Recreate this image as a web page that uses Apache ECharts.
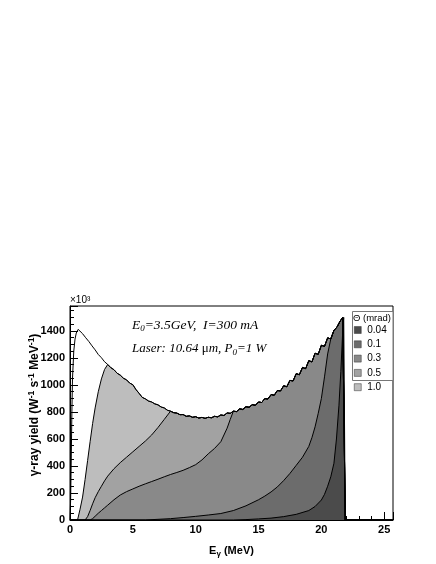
<!DOCTYPE html>
<html>
<head>
<meta charset="utf-8">
<script src="https://cdn.jsdelivr.net/npm/echarts@6/dist/echarts.min.js"></script>
<style>
html,body{margin:0;padding:0;background:#fff;}
#chart{width:436px;height:564px;}
</style>
</head>
<body>
<div id="chart"></div>
<script>
// ---- data (E_gamma in MeV, yield in 10^3 W^-1 s^-1 MeV^-1) ----
const yieldAll = [[0,0],[0.05,150],[0.1,450],[0.15,800],[0.2,1050],[0.3,1250],[0.4,1340],[0.5,1385],[0.65,1412],[0.8,1398],[1.0,1380],[1.25,1350],[1.5,1322],[1.75,1290],[2.0,1260],[2.25,1226],[2.5,1202],[2.75,1172],[3.0,1152],[3.25,1128],[3.5,1113],[3.75,1087],[4.0,1073],[4.25,1050],[4.5,1038],[4.75,1014],[5.0,1002],[5.25,966],[5.5,938],[5.75,908],[6.0,897],[6.25,881],[6.5,874],[6.75,860],[7.0,853],[7.25,837],[7.5,830],[7.75,813],[8.0,806],[8.25,795],[8.5,792],[8.75,780],[9.0,781],[9.25,768],[9.5,771],[9.75,761],[10.0,765],[10.25,755],[10.5,760],[10.75,753],[11.0,761],[11.25,757],[11.5,768],[11.75,764],[12.0,778],[12.25,774],[12.5,793],[12.75,790],[13.0,806],[13.25,803],[13.5,823],[13.75,819],[14.0,839],[14.25,835],[14.5,854],[14.75,850],[15.0,874],[15.25,870],[15.5,899],[15.75,896],[16.0,929],[16.25,924],[16.5,959],[16.75,956],[17.0,994],[17.25,987],[17.5,1034],[17.75,1030],[18.0,1084],[18.25,1076],[18.5,1130],[18.75,1121],[19.0,1180],[19.25,1171],[19.5,1235],[19.75,1227],[20.0,1294],[20.25,1286],[20.5,1349],[20.75,1341],[21.0,1404],[21.25,1430],[21.5,1474],[21.7,1500],[21.85,1512],[21.9,1512],[21.9,0],[25.7,0]];
const rise10 = [[0,0],[0.6,0],[0.8,80],[1.0,170],[1.2,300],[1.4,440],[1.6,580],[1.8,715],[2.0,830],[2.25,950],[2.5,1045],[2.75,1115],[3.0,1152]];
const rise05 = [[0,0],[1.2,0],[1.4,25],[1.6,70],[1.8,120],[2.0,165],[2.25,210],[2.5,250],[2.75,290],[3.0,325],[3.5,380],[4.0,425],[4.5,465],[5.0,505],[5.5,545],[6.0,585],[6.5,630],[7.0,685],[7.5,745],[8.0,806]];
const rise03 = [[0,0],[1.6,0],[1.8,10],[2.0,28],[2.25,50],[2.5,70],[2.75,90],[3.0,110],[3.5,150],[4.0,185],[4.5,210],[5.0,230],[5.5,250],[6.0,268],[6.5,285],[7.0,302],[7.5,320],[8.0,337],[8.5,352],[9.0,368],[9.5,388],[10.0,410],[10.5,445],[11.0,490],[11.5,530],[12.0,580],[12.5,680],[12.75,745],[13.0,806]];
const rise01 = [[0,0],[6.0,0],[7.0,5],[8.0,10],[9.0,18],[10.0,27],[11.0,37],[12.0,48],[13.0,70],[14.0,105],[15.0,150],[15.5,177],[16.0,208],[16.5,245],[17.0,292],[17.5,345],[18.0,405],[18.5,465],[19.0,545],[19.25,610],[19.5,690],[19.75,790],[20.0,900],[20.25,1060],[20.5,1230],[20.75,1341]];
const rise004 = [[0,0],[13.0,0],[14.0,3],[15.0,8],[16.0,14],[17.0,25],[18.0,42],[19.0,70],[19.5,100],[20.0,148],[20.25,190],[20.5,250],[20.75,320],[21.0,420],[21.2,600],[21.4,850],[21.55,1100],[21.7,1400],[21.78,1500]];
const thetaNames = ['0.04','0.1','0.3','0.5','1.0'];
const thetaColors = ['#4b4b4b','#6c6c6c','#898989','#a2a2a2','#bdbdbd'];
const xTicks = [0,5,10,15,20,25];
const yTicks = [0,200,400,600,800,1000,1200,1400];

// each cut follows the full spectrum once it has joined it
function joinEnvelope(rise){
  const xEnd = rise[rise.length-1][0];
  return rise.concat(yieldAll.filter(p => p[0] > xEnd));
}
const cutData = {
  '1.0': joinEnvelope(rise10),
  '0.5': joinEnvelope(rise05),
  '0.3': joinEnvelope(rise03),
  '0.1': joinEnvelope(rise01),
  '0.04': joinEnvelope(rise004)
};

const chart = echarts.init(document.getElementById('chart'), null, {renderer:'canvas'});
const font = 'Liberation Sans, Arial, Helvetica, sans-serif';
const serif = 'Liberation Serif, Times New Roman, serif';

const series = [{
  name: 'all', type: 'line', data: yieldAll, symbol: 'none', silent: true,
  lineStyle: {color:'#000', width:1}, itemStyle:{color:'#000'}
}];
['1.0','0.5','0.3','0.1','0.04'].forEach(n => {
  const c = thetaColors[thetaNames.indexOf(n)];
  series.push({
    name: n, type: 'line', data: cutData[n], symbol: 'none', silent: true,
    lineStyle: {color:'#000', width:1},
    itemStyle: {color: c},
    areaStyle: {color: c, opacity: 1}
  });
});

chart.setOption({
  animation: false,
  backgroundColor: '#fff',
  grid: {left:70, right:43, top:306, bottom:44, show:true, borderColor:'#000', borderWidth:1, backgroundColor:'transparent'},
  xAxis: {
    type:'value', min:0, max:25.7, interval:5,
    axisLine:{show:true, lineStyle:{color:'#000', width:1}},
    axisTick:{show:true, inside:true, length:8, lineStyle:{color:'#000'}},
    minorTick:{show:true, splitNumber:5, length:4, lineStyle:{color:'#000'}},
    splitLine:{show:false},
    axisLabel:{color:'#000', fontFamily:font, fontWeight:'bold', fontSize:11, margin:4, showMaxLabel:false,
      formatter: v => xTicks.indexOf(v) >= 0 ? String(v) : ''},
    name:'{m|E}{s|γ}{m| (MeV)}', nameLocation:'middle', nameGap:24,
    nameTextStyle:{fontFamily:font, fontWeight:'bold', fontSize:11, color:'#000',
      rich:{m:{fontFamily:font, fontWeight:'bold', fontSize:11, color:'#000'},
            s:{fontFamily:font, fontWeight:'bold', fontSize:8, color:'#000', padding:[6,0,0,0]}}}
  },
  yAxis: {
    type:'value', min:0, max:1585, interval:200,
    axisLine:{show:true, lineStyle:{color:'#000', width:1}},
    axisTick:{show:true, inside:true, length:8, lineStyle:{color:'#000'}},
    minorTick:{show:true, splitNumber:4, length:4, lineStyle:{color:'#000'}},
    splitLine:{show:false},
    axisLabel:{color:'#000', fontFamily:font, fontWeight:'bold', fontSize:11, margin:5, showMaxLabel:false,
      formatter: v => yTicks.indexOf(v) >= 0 ? String(v) : ''}
  },
  legend: {
    data: thetaNames.map((n,i) => ({name:n, icon:'rect', itemStyle:{color:thetaColors[i], borderColor:'#333', borderWidth:0.5}})),
    orient:'vertical', left:354, top:325, itemWidth:7, itemHeight:7, itemGap:4.3, padding:0,
    selectedMode:false,
    textStyle:{fontFamily:font, fontSize:10, color:'#000', padding:[0,0,0,1]}
  },
  graphic: [
    {type:'rect', z:3, shape:{x:352.5, y:311.5, width:40.5, height:69}, style:{fill:'#fff', stroke:'#777', lineWidth:1}},
    {type:'text', z:4, x:353, y:318, style:{text:'Θ (mrad)', font:'9.5px '+font, fill:'#000', textVerticalAlign:'middle'}},
    {type:'text', z:4, x:70, y:300, style:{text:'×10³', font:'10px '+font, fill:'#000', textVerticalAlign:'middle'}},
    {type:'text', z:4, x:132, y:325, style:{
      text:'{i|E}{s|0}{i|=3.5GeV,  I=300 mA}', textVerticalAlign:'middle',
      rich:{i:{fontFamily:serif, fontStyle:'italic', fontSize:13.5, color:'#000'},
            s:{fontFamily:serif, fontStyle:'italic', fontSize:9, color:'#000', padding:[7,0,0,0]}}}},
    {type:'text', z:4, x:132, y:349, style:{
      text:'{i|Laser: 10.64 }{u|μ}{i|m, P}{s|0}{i|=1 W}', textVerticalAlign:'middle',
      rich:{i:{fontFamily:serif, fontStyle:'italic', fontSize:13, color:'#000'},
            u:{fontFamily:serif, fontSize:13, color:'#000'},
            s:{fontFamily:serif, fontStyle:'italic', fontSize:9, color:'#000', padding:[7,0,0,0]}}}},
    {type:'text', z:4, x:35, y:405, rotation:Math.PI/2, style:{
      text:'{m|γ-ray yield (W}{p|-1}{m| s}{p|-1}{m| MeV}{p|-1}{m|)}', textAlign:'center', textVerticalAlign:'middle',
      rich:{m:{fontFamily:font, fontWeight:'bold', fontSize:12, color:'#000'},
            p:{fontFamily:font, fontWeight:'bold', fontSize:8.5, color:'#000', padding:[0,0,7,0]}}}}
  ],
  series: series
});
</script>
</body>
</html>
